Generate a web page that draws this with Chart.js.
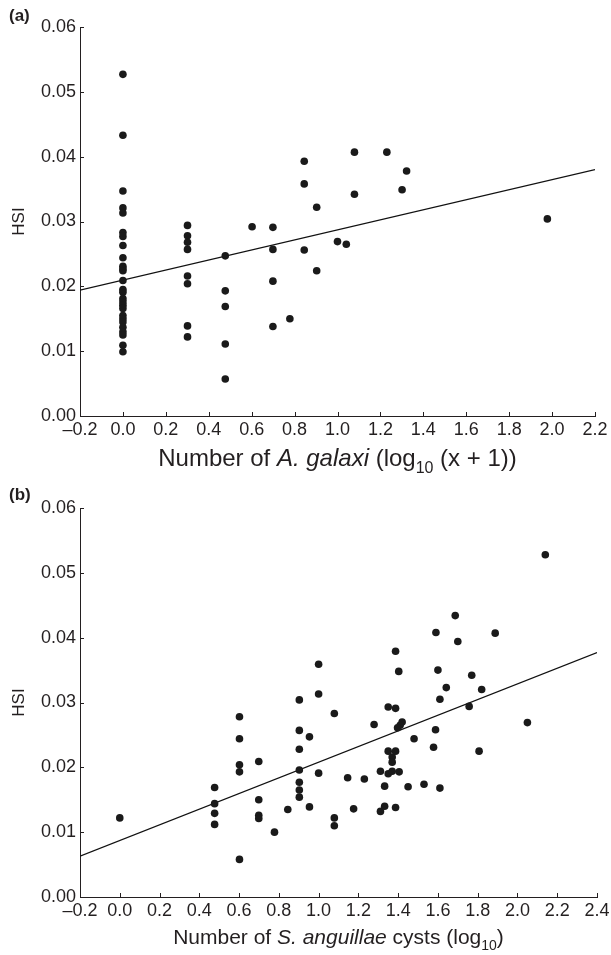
<!DOCTYPE html>
<html>
<head>
<meta charset="utf-8">
<script src="https://cdn.jsdelivr.net/npm/chart.js@4.4.1/dist/chart.umd.min.js"></script>
<style>
  body { margin: 0; background: #fff; }
  canvas { display: block; }
</style>
</head>
<body>
<canvas id="chartA" width="611" height="475"></canvas>
<canvas id="chartB" width="611" height="480"></canvas>
<script>
// panel (a): HSI against number of A. galaxi, grouped by log10(x + 1)
const galaxiLog = [0, 0.301, 0.477, 0.602, 0.699, 0.778, 0.845, 0.903, 1.0, 1.041, 1.079, 1.230, 1.301, 1.322, 1.978];
const galaxiHSI = [
  [0.0527, 0.0433, 0.0347, 0.0321, 0.0313, 0.0283, 0.0277, 0.0263, 0.0244, 0.0231, 0.0227, 0.0224, 0.0209,
   0.0195, 0.0191, 0.0181, 0.0176, 0.0171, 0.0166, 0.0155, 0.0150, 0.0145, 0.0137, 0.0130, 0.0125, 0.0109, 0.0099],
  [0.0294, 0.0278, 0.0268, 0.0257, 0.0216, 0.0204, 0.0139, 0.0122],
  [0.0247, 0.0193, 0.0169, 0.0111, 0.0057],
  [0.0292],
  [0.0291, 0.0257, 0.0208, 0.0138],
  [0.0150],
  [0.0393, 0.0358, 0.0256],
  [0.0322, 0.0224],
  [0.0269],
  [0.0265],
  [0.0407, 0.0342],
  [0.0407],
  [0.0349],
  [0.0378],
  [0.0304]
];
const fitAX = [-0.2, 2.2];
const fitAY = [0.0194, 0.0380];

// panel (b): HSI against number of S. anguillae cysts (log10)
const cystLog = [
  0,
  0.477, 0.477, 0.477, 0.477,
  0.602, 0.602, 0.602, 0.602, 0.602,
  0.699, 0.699, 0.699, 0.699,
  0.778, 0.845,
  0.903, 0.903, 0.903, 0.903, 0.903, 0.903, 0.903,
  0.954, 0.954,
  1.0, 1.0, 1.0,
  1.079, 1.079, 1.079,
  1.146, 1.176, 1.23, 1.279,
  1.311, 1.311, 1.332, 1.332,
  1.35, 1.35, 1.35,
  1.37, 1.37, 1.37,
  1.387, 1.387, 1.387, 1.387,
  1.403, 1.405, 1.42, 1.41, 1.397,
  1.45, 1.48, 1.53,
  1.578, 1.588, 1.59, 1.60, 1.61, 1.61,
  1.642, 1.687, 1.70, 1.757, 1.77, 1.807, 1.82, 1.888, 2.05, 2.14
];
const cystHSI = [
  0.0122,
  0.0169, 0.0144, 0.0129, 0.0112,
  0.0278, 0.0244, 0.0204, 0.0193, 0.0058,
  0.0209, 0.0150, 0.0126, 0.0121,
  0.0100, 0.0135,
  0.0304, 0.0257, 0.0228, 0.0196, 0.0177, 0.0165, 0.0154,
  0.0247, 0.0139,
  0.0359, 0.0313, 0.0191,
  0.0283, 0.0122, 0.0110,
  0.0184, 0.0136, 0.0182, 0.0266,
  0.0194, 0.0132, 0.0171, 0.0140,
  0.0293, 0.0225, 0.0190,
  0.0216, 0.0208, 0.0194,
  0.0291, 0.0379, 0.0225, 0.0138,
  0.0348, 0.0193, 0.0270, 0.0265, 0.0261,
  0.0170, 0.0244, 0.0174,
  0.0231, 0.0258, 0.0408, 0.0350, 0.0305, 0.0168,
  0.0323, 0.0434, 0.0394, 0.0294, 0.0342, 0.0225, 0.0320, 0.0407, 0.0269, 0.0528
];
const fitBX = [-0.2, 2.4];
const fitBY = [0.0063, 0.0377];

const FONT = "'Liberation Sans', Arial, Helvetica, sans-serif";
const INK = '#231f20';

// inward tick marks, panel letter and the mixed-style x title
const decor = {
  id: 'decor',
  afterDraw(chart, args, opts) {
    const ctx = chart.ctx;
    const area = chart.chartArea;
    const xs = chart.scales.x, ys = chart.scales.y;
    ctx.save();
    ctx.strokeStyle = INK;
    ctx.lineWidth = 1;
    ctx.beginPath();
    xs.ticks.forEach(t => {
      const px = Math.round(xs.getPixelForValue(t.value)) + 0.5;
      ctx.moveTo(px, area.bottom);
      ctx.lineTo(px, area.bottom - 4);
    });
    ys.ticks.forEach(t => {
      const py = Math.round(ys.getPixelForValue(t.value)) + 0.5;
      ctx.moveTo(area.left, py);
      ctx.lineTo(area.left + 4, py);
    });
    ctx.stroke();

    ctx.fillStyle = INK;
    ctx.textBaseline = 'middle';
    ctx.textAlign = 'left';
    ctx.font = 'bold 17px ' + FONT;
    ctx.fillText(opts.letter, 9, opts.letterY);

    // x axis title made of pieces
    const size = opts.titleSize;
    const parts = opts.title.map(p => {
      const s = p.sub ? Math.round(size * 0.68) : size;
      const f = (p.italic ? 'italic ' : '') + s + 'px ' + FONT;
      ctx.font = f;
      return { text: p.text, font: f, sub: p.sub, w: ctx.measureText(p.text).width };
    });
    const total = parts.reduce((a, p) => a + p.w, 0);
    let x = (area.left + area.right) / 2 - total / 2;
    const y = area.bottom + opts.titleOffset;
    ctx.textBaseline = 'alphabetic';
    parts.forEach(p => {
      ctx.font = p.font;
      ctx.fillText(p.text, x, p.sub ? y + size * 0.28 : y);
      x += p.w;
    });
    ctx.restore();
  }
};

function tickText(v, d) {
  if (Math.abs(v) < 1e-9) v = 0;
  const s = Math.abs(v).toFixed(d);
  return v < 0 ? '\u2013' + s : s;
}

function makeChart(id, points, fit, xMax, o) {
  return new Chart(document.getElementById(id), {
    type: 'scatter',
    data: {
      datasets: [
        {
          data: points,
          backgroundColor: '#1a1a1a',
          pointRadius: 3.8,
          pointBorderWidth: 0,
          pointHoverRadius: 3.8
        },
        {
          type: 'line',
          data: fit,
          borderColor: '#111',
          borderWidth: 1.2,
          pointRadius: 0,
          fill: false
        }
      ]
    },
    options: {
      responsive: false,
      animation: false,
      layout: { padding: { top: o.top, right: o.right, left: 0, bottom: 0 } },
      plugins: {
        legend: { display: false },
        tooltip: { enabled: false },
        decor: o
      },
      scales: {
        x: {
          type: 'linear',
          min: -0.2,
          max: xMax,
          afterFit: s => { s.height = o.xHeight; s.paddingRight = 0; s.paddingLeft = 0; },
          ticks: {
            stepSize: 0.2,
            color: INK,
            padding: 3,
            maxRotation: 0,
            autoSkip: false,
            font: { family: FONT, size: 18 },
            callback: v => tickText(v, 1)
          },
          grid: { display: true, drawOnChartArea: false, drawTicks: false },
          border: { display: true, color: INK, width: 1 }
        },
        y: {
          min: 0,
          max: 0.06,
          afterFit: s => { s.width = 80; s.paddingTop = 0; s.paddingBottom = 0; },
          ticks: {
            stepSize: 0.01,
            color: INK,
            padding: 4,
            font: { family: FONT, size: 18 },
            callback: v => tickText(v, 2)
          },
          title: {
            display: true,
            text: 'HSI',
            color: INK,
            padding: { top: 9, bottom: 0 },
            font: { family: FONT, size: 17 }
          },
          grid: { display: true, drawOnChartArea: false, drawTicks: false },
          border: { display: true, color: INK, width: 1 }
        }
      }
    },
    plugins: [decor]
  });
}

const pointsA = [];
galaxiLog.forEach((gx, i) => galaxiHSI[i].forEach(h => pointsA.push({ x: gx, y: h })));
const lineA = fitAX.map((fx, i) => ({ x: fx, y: fitAY[i] }));

const pointsB = cystLog.map((cx, i) => ({ x: cx, y: cystHSI[i] }));
const lineB = fitBX.map((fx, i) => ({ x: fx, y: fitBY[i] }));

makeChart('chartA', pointsA, lineA, 2.2, {
  letter: '(a)', letterY: 16, top: 27, right: 16, xHeight: 59,
  titleSize: 24, titleOffset: 50,
  title: [
    { text: 'Number of ' },
    { text: 'A. galaxi', italic: true },
    { text: ' (log' },
    { text: '10', sub: true },
    { text: ' (x + 1))' }
  ]
});

makeChart('chartB', pointsB, lineB, 2.4, {
  letter: '(b)', letterY: 20, top: 33, right: 14, xHeight: 58,
  titleSize: 21, titleOffset: 47,
  title: [
    { text: 'Number of ' },
    { text: 'S. anguillae', italic: true },
    { text: ' cysts (log' },
    { text: '10', sub: true },
    { text: ')' }
  ]
});
</script>
</body>
</html>
